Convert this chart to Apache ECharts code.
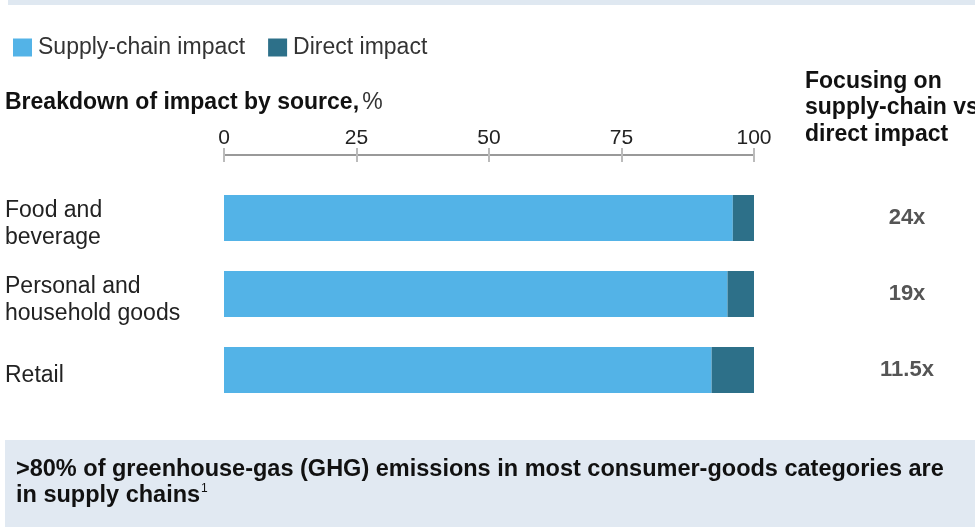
<!DOCTYPE html>
<html>
<head>
<meta charset="utf-8">
<script src="https://cdn.jsdelivr.net/npm/echarts@6/dist/echarts.min.js"></script>
<style>
html, body { margin: 0; padding: 0; background: #fff; }
#chart { width: 975px; height: 527px; }
</style>
</head>
<body>
<div id="chart"></div>
<script>
var categories = ['Food and\nbeverage', 'Personal and\nhousehold goods', 'Retail'];
var supplyChain = [96, 95, 92];
var direct = [4, 5, 8];
var ratioLabels = ['24x', '19x', '11.5x'];
var xTicks = [0, 25, 50, 75, 100];

var font = '"Liberation Sans", Arial, sans-serif';

var myChart = echarts.init(document.getElementById('chart'));
var option = {
    animation: false,
    color: ['#53b3e7', '#2d7089'],
    legend: {
        left: 8,
        top: 31,
        icon: 'rect',
        itemWidth: 19,
        itemHeight: 18,
        itemGap: 23,
        textStyle: { fontFamily: font, fontSize: 23, color: '#333', padding: [0, 0, 0, 1] },
        data: ['Supply-chain impact', 'Direct impact']
    },
    grid: { left: 224, right: 221, top: 180, bottom: 119 },
    xAxis: [
        {
            type: 'value',
            position: 'top',
            offset: 25,
            min: xTicks[0],
            max: xTicks[xTicks.length - 1],
            interval: 25,
            axisLine: { show: true, lineStyle: { color: '#999', width: 2 } },
            axisTick: { show: true, length: 7, lineStyle: { color: '#bbb', width: 2 } },
            axisLabel: { fontFamily: font, fontSize: 21, color: '#222', margin: 6 },
            splitLine: { show: false }
        },
        {
            type: 'value',
            position: 'top',
            offset: 25,
            min: xTicks[0],
            max: xTicks[xTicks.length - 1],
            interval: 25,
            axisLine: { show: false },
            axisTick: { show: true, inside: true, length: 7, lineStyle: { color: '#bbb', width: 2 } },
            axisLabel: { show: false },
            splitLine: { show: false }
        }
    ],
    yAxis: [
        {
            type: 'category',
            inverse: true,
            data: categories,
            axisLine: { show: false },
            axisTick: { show: false },
            axisLabel: {
                align: 'left',
                margin: 219,
                formatter: function (v) {
                    // labels sit a little below the bar centre in the original
                    var lines = v.split('\n');
                    return lines.map(function (l, i) {
                        if (i > 0) return '{a|' + l + '}';
                        return (lines.length > 1 ? '{p|' : '{q|') + l + '}';
                    }).join('\n');
                },
                rich: {
                    p: { fontFamily: font, fontSize: 23, color: '#222', padding: [12, 0, 0, 0] },
                    q: { fontFamily: font, fontSize: 23, color: '#222', padding: [12, 0, 0, 0] },
                    a: { fontFamily: font, fontSize: 23, color: '#222', padding: [4, 0, 0, 0] }
                }
            }
        },
        {
            type: 'category',
            inverse: true,
            position: 'right',
            data: ratioLabels,
            axisLine: { show: false },
            axisTick: { show: false },
            axisLabel: {
                align: 'center',
                margin: 153,
                fontFamily: font,
                fontSize: 22,
                fontWeight: 'bold',
                color: '#555'
            }
        }
    ],
    series: [
        {
            name: 'Supply-chain impact',
            type: 'bar',
            stack: 'total',
            barWidth: 46,
            data: supplyChain
        },
        {
            name: 'Direct impact',
            type: 'bar',
            stack: 'total',
            barWidth: 46,
            data: direct
        }
    ],
    graphic: [
        { type: 'rect', shape: { x: 8, y: 0, width: 967, height: 5 }, style: { fill: '#dfe8f1' } },
        {
            type: 'text', left: 5, top: 91,
            style: {
                text: '{b|Breakdown of impact by source,} {n|%}',
                rich: {
                    b: { fontFamily: font, fontSize: 23, fontWeight: 'bold', fill: '#111' },
                    n: { fontFamily: font, fontSize: 23, fill: '#333' }
                }
            }
        },
        {
            type: 'text', left: 805, top: 68,
            style: {
                text: 'Focusing on\nsupply-chain vs\ndirect impact',
                fontFamily: font, fontSize: 23, fontWeight: 'bold', lineHeight: 26.5, fill: '#111'
            }
        },
        { type: 'rect', shape: { x: 5, y: 440, width: 970, height: 87 }, style: { fill: '#e1e9f2' } },
        {
            type: 'text', left: 16, top: 457,
            style: {
                text: '>80% of greenhouse-gas (GHG) emissions in most consumer-goods categories are\nin supply chains{s|1}',
                fontFamily: font,
                fontSize: 23.5, fontWeight: 'bold', lineHeight: 26, fill: '#111',
                rich: { s: { fontSize: 12, verticalAlign: 'top', padding: [0, 0, 10, 1], fontFamily: font } }
            }
        }
    ]
};
myChart.setOption(option);
</script>
</body>
</html>
